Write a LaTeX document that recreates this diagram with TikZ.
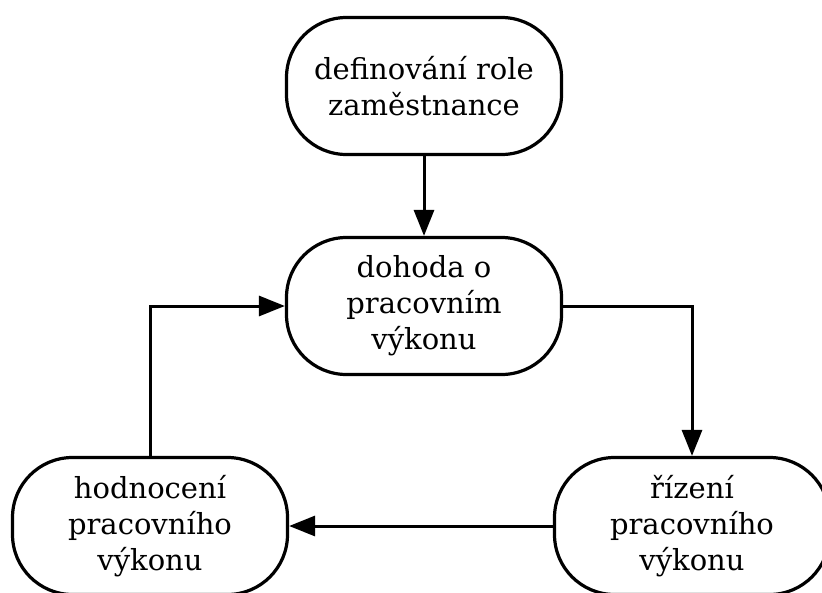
\documentclass[tikz,border=0pt]{standalone}
\usepackage{fontspec}
\setmainfont{DejaVu Serif}
\usetikzlibrary{positioning,arrows.meta}

\tikzset{
  box/.style={draw, line width=3.2pt, rounded corners=60pt, align=center,
    minimum width=275pt, minimum height=137pt,
    font=\fontsize{29}{36}\selectfont},
  arr/.style={line width=3pt, -{Triangle[length=26pt,width=20pt]}}
}

\begin{document}
\begin{tikzpicture}
\useasboundingbox (0,0) rectangle (822pt,-592pt);
\node[box] (role) at (424pt,-86pt) {definování role\\zaměstnance};
\node[box, below of=role, node distance=220pt] (dohoda) {dohoda o\\pracovním\\výkonu};
\node[box, below of=dohoda, node distance=220pt, xshift=-274pt] (hodnoceni) {hodnocení\\pracovního\\výkonu};
\node[box, below of=dohoda, node distance=220pt, xshift=268pt] (rizeni) {řízení\\pracovního\\výkonu};

\draw[arr] (role) -- (dohoda);
\draw[arr] (dohoda.east) -| (rizeni.north);
\draw[arr] (rizeni) -- (hodnoceni);
\draw[arr] (hodnoceni.north) |- (dohoda.west);
\end{tikzpicture}
\end{document}
